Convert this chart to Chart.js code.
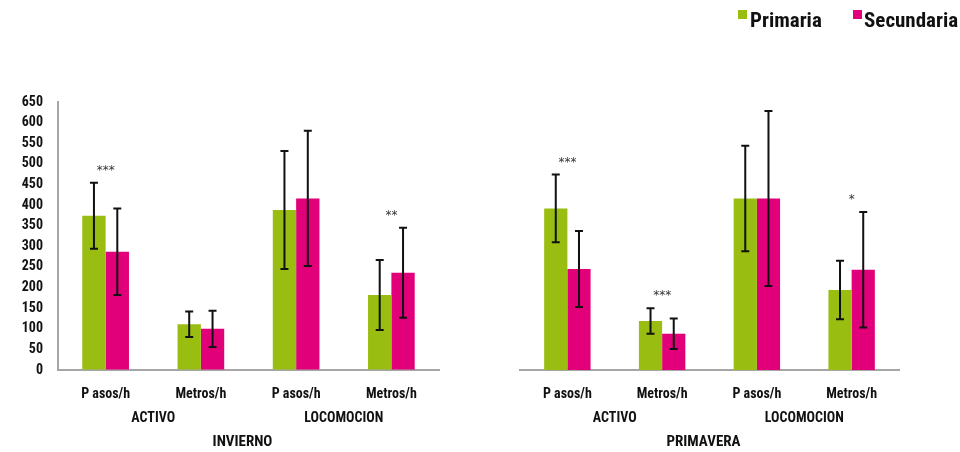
<!DOCTYPE html>
<html>
<head>
<meta charset="utf-8">
<script src="https://cdn.jsdelivr.net/npm/chart.js@4.4.1/dist/chart.umd.min.js"></script>
<style>
  body { margin: 0; background: #fff; width: 960px; height: 452px; overflow: hidden; position: relative; }
  canvas { position: absolute; top: 0; }
  #invChart { left: 0; }
  #priChart { left: 480px; }
  .swatch { position: absolute; top: 10px; width: 9px; height: 9px; }
  .legend { position: absolute; top: 8px; line-height: 24px; white-space: nowrap;
            font: bold 21px "Roboto Condensed", "DejaVu Sans Condensed", sans-serif; color: #111; }
</style>
</head>
<body>
<canvas id="invChart" width="480" height="452"></canvas>
<canvas id="priChart" width="480" height="452"></canvas>
<div class="swatch" style="left:738px;background:#99BE11"></div>
<div class="legend" style="left:750px">Primaria</div>
<div class="swatch" style="left:853px;background:#E2007A"></div>
<div class="legend" style="left:864px">Secundaria</div>
<script>
// ── Data ──────────────────────────────────────
const categories = ['P asos/h', 'Metros/h', 'P asos/h', 'Metros/h'];
const groupLabels = ['ACTIVO', 'LOCOMOCION'];

const invPrimaria     = [374, 111, 388, 182];
const invPrimariaSD   = [80, 31, 143, 85];
const invSecundaria   = [287, 100, 416, 236];
const invSecundariaSD = [105, 44, 164, 109];
const invSig          = ['***', '', '', '**'];

const priPrimaria     = [392, 119, 416, 194];
const priPrimariaSD   = [82, 31, 128, 71];
const priSecundaria   = [245, 88, 416, 243];
const priSecundariaSD = [92, 37, 212, 140];
const priSig          = ['***', '***', '', '*'];

const GREEN = '#99BE11';
const PINK  = '#E2007A';
const FONT  = '"Roboto Condensed", "DejaVu Sans Condensed", sans-serif';

// ── Error bars + significance stars ──────────
const errorBarPlugin = {
  id: 'errorBars',
  afterDatasetsDraw(chart, args, opts) {
    const { ctx } = chart;
    const y = chart.scales.y;
    const x = chart.scales.x;
    ctx.save();
    ctx.strokeStyle = '#111';
    ctx.lineWidth = 2;
    chart.data.datasets.forEach((ds, i) => {
      const meta = chart.getDatasetMeta(i);
      meta.data.forEach((bar, j) => {
        const v = ds.data[j], sd = ds.sd[j];
        const top = y.getPixelForValue(v + sd);
        const bot = y.getPixelForValue(v - sd);
        ctx.beginPath();
        ctx.moveTo(bar.x, top); ctx.lineTo(bar.x, bot);
        ctx.moveTo(bar.x - 4, top); ctx.lineTo(bar.x + 4, top);
        ctx.moveTo(bar.x - 4, bot); ctx.lineTo(bar.x + 4, bot);
        ctx.stroke();
      });
    });
    // stars above the highest whisker of each pair
    ctx.fillStyle = '#333';
    ctx.font = '12px "DejaVu Sans", sans-serif';
    ctx.textAlign = 'center';
    ctx.textBaseline = 'alphabetic';
    opts.sig.forEach((s, j) => {
      if (!s) return;
      const maxTop = Math.max(...chart.data.datasets.map(ds => ds.data[j] + ds.sd[j]));
      ctx.fillText(s, x.getPixelForValue(j), y.getPixelForValue(maxTop) - 9);
    });
    ctx.restore();
  },
  afterDraw(chart, args, opts) {
    const { ctx, chartArea } = chart;
    const x = chart.scales.x;
    ctx.save();
    ctx.fillStyle = '#111';
    ctx.textAlign = 'center';
    ctx.textBaseline = 'middle';
    ctx.font = 'bold 14px ' + FONT;
    groupLabels.forEach((g, k) => {
      const cx = (x.getPixelForValue(2 * k) + x.getPixelForValue(2 * k + 1)) / 2;
      ctx.fillText(g, cx, chartArea.bottom + 48);
    });
    ctx.font = 'bold 15px ' + FONT;
    ctx.fillText(opts.title, (chartArea.left + chartArea.right) / 2 - 6, chartArea.bottom + 72);
    ctx.restore();
  }
};

function buildChart(id, prim, primSD, sec, secSD, sig, title, showY) {
  return new Chart(document.getElementById(id), {
    type: 'bar',
    data: {
      labels: categories,
      datasets: [
        { label: 'Primaria',   data: prim, sd: primSD, backgroundColor: GREEN },
        { label: 'Secundaria', data: sec,  sd: secSD,  backgroundColor: PINK },
      ],
    },
    options: {
      responsive: false,
      animation: false,
      events: [],
      datasets: { bar: { categoryPercentage: 0.49, barPercentage: 1 } },
      layout: { padding: showY ? { top: 102, left: 0, right: 41, bottom: 0 }
                               : { top: 102, left: 40, right: 61, bottom: 0 } },
      plugins: {
        legend: { display: false },
        tooltip: { enabled: false },
        errorBars: { sig, title },
      },
      scales: {
        x: {
          afterFit: s => { s.height = 82; },
          grid: { display: true, drawOnChartArea: false, drawTicks: false },
          border: { display: true, color: '#A6A6A6', width: 2 },
          ticks: { padding: 16, color: '#111', font: { family: FONT, size: 14, weight: 'bold' } },
        },
        y: {
          display: showY,
          min: 0, max: 650,
          afterFit: s => { s.width = showY ? 58 : 0; },
          grid: { display: true, drawOnChartArea: false, drawTicks: false },
          border: { display: true, color: '#A6A6A6', width: 2 },
          ticks: { stepSize: 50, padding: 15, color: '#111', font: { family: FONT, size: 14, weight: 'bold' } },
        },
      },
    },
    plugins: [errorBarPlugin],
  });
}

// ── Init ─────────────────────────────────────
buildChart('invChart', invPrimaria, invPrimariaSD, invSecundaria, invSecundariaSD, invSig, 'INVIERNO', true);
buildChart('priChart', priPrimaria, priPrimariaSD, priSecundaria, priSecundariaSD, priSig, 'PRIMAVERA', false);
</script>
</body>
</html>
